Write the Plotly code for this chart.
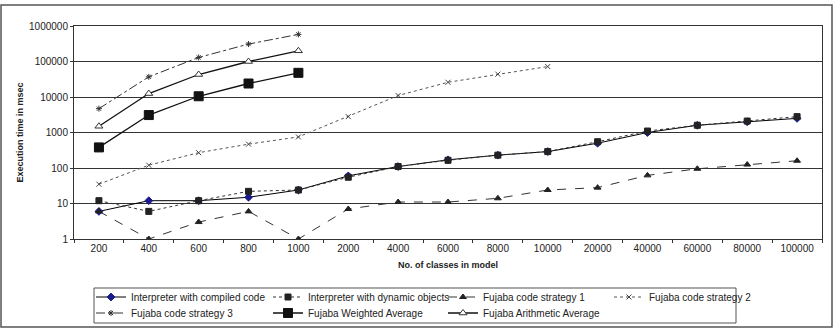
import plotly.graph_objects as go

categories = ["200", "400", "600", "800", "1000", "2000", "4000", "6000", "8000",
              "10000", "20000", "40000", "60000", "80000", "100000"]

interp_compiled = [6, 12, 12, 15, 24, 60, 110, 170, 230, 290, 500, 1000, 1600, 2000, 2500]
interp_dynamic = [12, 6, 12, 22, 24, 55, 110, 165, 230, 290, 550, 1100, 1600, 2100, 2800]
strategy1 = [6, 1, 3, 6, 1, 7, 11, 11, 14, 24, 28, 62, 95, 125, 160]
strategy2 = [35, 120, 270, 470, 750, 2800, 11000, 26000, 44000, 72000]
strategy3 = [4700, 37000, 130000, 310000, 580000]
weighted_avg = [380, 3100, 10500, 24000, 48000]
arith_avg = [1500, 12500, 43000, 100000, 200000]

ytick_vals = [1, 10, 100, 1000, 10000, 100000, 1000000]
ytick_text = ["1", "10", "100", "1000", "10000", "100000", "1000000"]

# plot area in pixels
L, R, T, B = 74, 822, 26, 239
W, H = R - L, B - T


def px_x(x):
    return (x - L) / W


def px_y(y):
    return (B - y) / H


fig = go.Figure()

# legend slot positions (text start x, row centre y) in pixels
legend_slots = [(131, 297), (308, 297), (483, 297), (649, 297),
                (131, 313), (308, 313), (483, 313)]


def add(idx, name, y, lcolor, dash, width, symbol, msize, mcolor, mline=None):
    lg = "legend" if idx == 0 else f"legend{idx + 1}"
    fig.add_trace(go.Scatter(
        x=categories[:len(y)], y=y, name=name, mode="lines+markers",
        legend=lg,
        line=dict(color=lcolor, dash=dash, width=width),
        marker=dict(symbol=symbol, size=msize, color=mcolor,
                    line=dict(color=mline if mline else mcolor, width=1)),
    ))
    tx, ty = legend_slots[idx]
    fig.update_layout({lg: dict(
        x=px_x(tx - 40), y=px_y(ty), xanchor="left", yanchor="middle",
        bgcolor="rgba(0,0,0,0)", borderwidth=0, font=dict(size=10, color="#222222"),
        itemwidth=30, orientation="v",
    )})


add(0, "Interpreter with compiled code", interp_compiled, "#000000", "solid", 1, "diamond", 6, "#1a1a8c")
add(1, "Interpreter with dynamic objects", interp_dynamic, "#333333", "dot", 1, "square", 6, "#222222")
add(2, "Fujaba code strategy 1", strategy1, "#333333", "dash", 1, "triangle-up", 6, "#222222")
add(3, "Fujaba code strategy 2", strategy2, "#555555", "dot", 1, "x-thin-open", 5, "#444444")
add(4, "Fujaba code strategy 3", strategy3, "#333333", "dashdot", 1, "asterisk-open", 5, "#333333")
add(5, "Fujaba Weighted Average", weighted_avg, "#111111", "solid", 1.3, "square", 9, "#111111")
add(6, "Fujaba Arithmetic Average", arith_avg, "#111111", "solid", 1.3, "triangle-up", 7, "#ffffff", "#333333")

fig.update_layout(
    width=839, height=330,
    margin=dict(l=L, r=839 - R, t=T, b=330 - B, autoexpand=False),
    paper_bgcolor="white", plot_bgcolor="white",
    font=dict(family="Liberation Sans, Arial, sans-serif", size=10, color="#222222"),
    showlegend=True,
    xaxis=dict(
        type="category", range=[-0.5, len(categories) - 0.5],
        showgrid=False, showline=True, linecolor="#333333",
        ticks="outside", tickson="boundaries", ticklen=3, tickcolor="#333333",
        mirror=True, tickfont=dict(size=10),
        title=dict(text="<b>No. of classes in model</b>", font=dict(size=9), standoff=8),
    ),
    yaxis=dict(
        type="log", range=[0, 6], tickvals=ytick_vals, ticktext=ytick_text,
        showgrid=True, gridcolor="#333333", gridwidth=1,
        showline=True, linecolor="#333333", mirror=True,
        ticks="outside", ticklen=3, tickcolor="#333333", tickfont=dict(size=10),
        title=dict(text="<b>Execution time in msec</b>", font=dict(size=9), standoff=3),
    ),
)

# outer chart frame
fig.add_shape(type="rect", xref="paper", yref="paper",
              x0=px_x(1), x1=px_x(832), y0=px_y(327), y1=px_y(5),
              line=dict(color="#555555", width=1.5))
# legend box
fig.add_shape(type="rect", xref="paper", yref="paper",
              x0=px_x(94), x1=px_x(736), y0=px_y(323), y1=px_y(288),
              line=dict(color="#555555", width=1))

fig.write_html("out.html")
